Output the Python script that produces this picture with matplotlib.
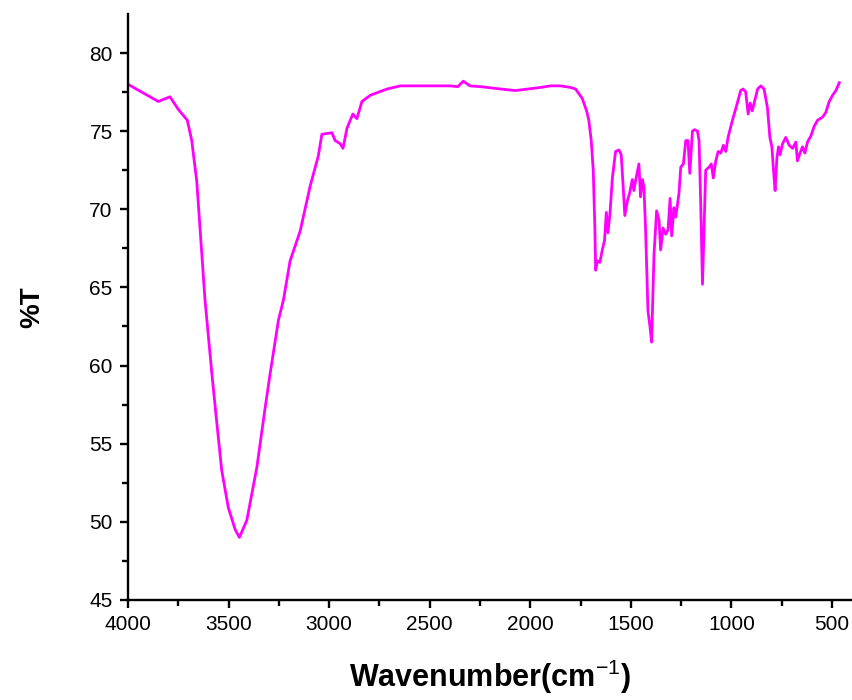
import numpy as np
import matplotlib.pyplot as plt

plt.rcParams["font.family"] = ["Liberation Sans", "DejaVu Sans"]
plt.rcParams["mathtext.fontset"] = "custom"
plt.rcParams["mathtext.rm"] = "Liberation Sans"

# FTIR spectrum, wavenumber (cm^-1) vs transmittance (%T)
wavenumber = [
    4000, 3849, 3791, 3750, 3705, 3683, 3658, 3617, 3583, 3558, 3534, 3501,
    3467, 3446, 3409, 3359, 3318, 3293, 3252, 3227, 3194, 3144, 3094, 3054,
    3036, 2986, 2970, 2945, 2931, 2911, 2882, 2862, 2837, 2795, 2712, 2646,
    2500, 2400, 2360, 2333, 2300, 2248, 2148, 2074, 1949, 1900, 1850, 1800,
    1775, 1742, 1720, 1709, 1697, 1687, 1679, 1675, 1667, 1654, 1642, 1631,
    1622, 1614, 1604, 1592, 1576, 1559, 1548, 1538, 1530, 1518, 1505, 1493,
    1485, 1477, 1460, 1452, 1443, 1435, 1427, 1415, 1405, 1397, 1393, 1385,
    1372, 1360, 1352, 1340, 1327, 1315, 1305, 1297, 1286, 1277, 1261, 1252,
    1239, 1227, 1216, 1207, 1194, 1183, 1169, 1161, 1153, 1144, 1136, 1128,
    1111, 1100, 1090, 1078, 1066, 1053, 1040, 1028, 1017, 995, 973, 954,
    942, 929, 917, 907, 897, 887, 870, 854, 838, 821, 809, 799,
    791, 783, 774, 766, 758, 746, 730, 713, 696, 680, 672, 659,
    647, 635, 622, 605, 589, 572, 547, 531, 514, 497, 481, 464,
]
transmittance = [
    78.0, 76.9, 77.2, 76.4, 75.7, 74.4, 71.8, 64.2, 59.5, 56.3, 53.3, 50.9,
    49.5, 49.0, 50.1, 53.5, 57.3, 59.5, 62.9, 64.2, 66.7, 68.6, 71.5, 73.4,
    74.8, 74.9, 74.4, 74.2, 73.9, 75.2, 76.1, 75.8, 76.9, 77.3, 77.7, 77.9,
    77.9, 77.9, 77.85, 78.2, 77.9, 77.85, 77.7, 77.6, 77.8, 77.9, 77.9, 77.8,
    77.7, 77.1, 76.3, 75.7, 74.4, 72.5, 68.8, 66.1, 66.7, 66.6, 67.4, 68.0,
    69.8, 68.5, 69.7, 72.0, 73.7, 73.8, 73.5, 71.4, 69.6, 70.5, 71.1, 71.9,
    71.2, 71.8, 72.9, 70.8, 71.9, 71.4, 68.8, 63.5, 62.5, 61.5, 63.3, 67.1,
    69.9, 69.3, 67.4, 68.8, 68.4, 68.7, 70.7, 68.3, 70.1, 69.5, 71.0, 72.7,
    72.9, 74.4, 74.4, 72.3, 75.0, 75.1, 75.0, 74.4, 70.5, 65.2, 68.8, 72.5,
    72.7, 72.9, 72.0, 73.1, 73.7, 73.6, 74.1, 73.7, 74.6, 75.7, 76.7, 77.6,
    77.7, 77.5, 76.1, 76.8, 76.3, 76.8, 77.7, 77.9, 77.7, 76.5, 74.6, 74.0,
    72.5, 71.2, 73.3, 74.0, 73.5, 74.2, 74.6, 74.1, 73.9, 74.3, 73.1, 73.6,
    74.0, 73.6, 74.3, 74.7, 75.3, 75.7, 75.9, 76.2, 76.9, 77.3, 77.6, 78.1,
]

x_ticks = [4000, 3500, 3000, 2500, 2000, 1500, 1000, 500]
y_ticks = [45, 50, 55, 60, 65, 70, 75, 80]

fig = plt.figure(figsize=(8.53, 7.0), dpi=100)
ax = fig.add_axes([0.150, 0.143, 0.849, 0.837])

ax.plot(wavenumber, transmittance, color="#ff00ff", lw=2.0,
        solid_joinstyle="round")

ax.set_xlim(4000, 400)
ax.set_ylim(45, 82.5)
ax.set_xticks(x_ticks)
ax.set_yticks(y_ticks)
ax.set_xticks(np.arange(3750, 400, -500), minor=True)
ax.set_yticks(np.arange(47.5, 82.5, 5), minor=True)

for side in ["top", "right"]:
    ax.spines[side].set_visible(False)
for side in ["left", "bottom"]:
    ax.spines[side].set_linewidth(1.7)

ax.tick_params(which="major", direction="out", length=6, width=1.7,
               labelsize=15, pad=5)
ax.tick_params(which="minor", direction="out", length=4, width=1.7)

ax.set_xlabel("Wavenumber(cm$^{-1}$)", fontsize=22, fontweight="bold",
              labelpad=17)
ax.set_ylabel("%T", fontsize=20, fontweight="bold", labelpad=32)

fig.savefig("out.png", dpi=100)
